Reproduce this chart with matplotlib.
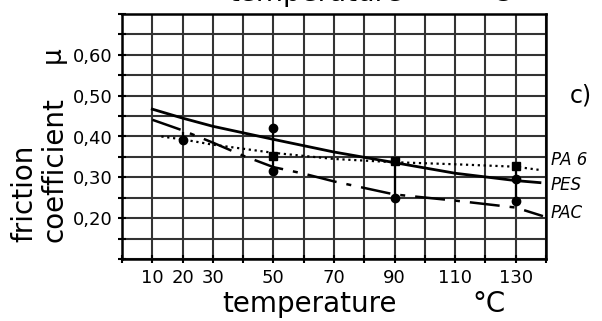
import matplotlib
matplotlib.use("Agg")
import matplotlib.pyplot as plt

# curves (temperature in degC, friction coefficient)
pes_t = [10, 20, 30, 50, 70, 90, 110, 130, 138]
pes_mu = [0.467, 0.445, 0.425, 0.393, 0.362, 0.336, 0.310, 0.292, 0.287]

pa6_t = [13, 20, 30, 50, 70, 90, 110, 130, 138]
pa6_mu = [0.400, 0.393, 0.380, 0.360, 0.345, 0.337, 0.332, 0.326, 0.318]

pac_t = [10, 20, 30, 40, 50, 60, 70, 90, 110, 130, 139]
pac_mu = [0.441, 0.415, 0.385, 0.353, 0.325, 0.309, 0.290, 0.258, 0.243, 0.226, 0.205]

# measured points
sq_t = [50, 90, 130]
sq_mu = [0.352, 0.340, 0.328]
dot_t = [20, 50, 50, 90, 130, 130]
dot_mu = [0.392, 0.420, 0.315, 0.250, 0.295, 0.242]
bar_t = [20, 50, 90, 130]
bar_lo = [0.380, 0.310, 0.245, 0.235]
bar_hi = [0.410, 0.425, 0.350, 0.335]

xticks = list(range(0, 141, 10))
xlabels = ["", "10", "20", "30", "", "50", "", "70", "", "90", "", "110", "", "130", ""]
yticks = [0.10 + 0.05 * i for i in range(13)]
ylabels = ["", "", "0,20", "", "0,30", "", "0,40", "", "0,50", "", "0,60", "", ""]

plt.rcParams["font.family"] = "DejaVu Sans"

fig = plt.figure(figsize=(6.02, 3.21), dpi=100)
ax = fig.add_axes([122 / 602, 62 / 321, 424 / 602, 245 / 321])

ax.plot(pes_t, pes_mu, color="black", linewidth=2.0)
ax.plot(pa6_t, pa6_mu, color="black", linewidth=1.6, linestyle=":")
ax.plot(pac_t, pac_mu, color="black", linewidth=1.8, dashes=(12, 4, 2, 4))

ax.vlines(bar_t, bar_lo, bar_hi, color="black", linewidth=1.6)
ax.plot(sq_t, sq_mu, "s", color="black", markersize=6)
ax.plot(dot_t, dot_mu, "o", color="black", markersize=6)

ax.set_xlim(0, 140)
ax.set_ylim(0.10, 0.70)
ax.set_xticks(xticks)
ax.set_xticklabels(xlabels)
ax.set_yticks(yticks)
ax.set_yticklabels(ylabels)
ax.grid(True, color="#333333", linewidth=1.5)
ax.set_axisbelow(True)
ax.tick_params(direction="inout", length=6, width=1.5, labelsize=13, pad=4)

for side in ["left", "bottom", "right", "top"]:
    ax.spines[side].set_linewidth(1.8)

fig.text(24 / 602, 79 / 321, "friction", rotation=90, ha="center", va="bottom", fontsize=20)
fig.text(54 / 602, 79 / 321, "coefficient", rotation=90, ha="center", va="bottom", fontsize=20)
fig.text(53 / 602, 266 / 321, "\u03bc", rotation=90, ha="center", va="center", fontsize=19)

fig.text(222 / 602, 9 / 321, "temperature", va="baseline", fontsize=20)
fig.text(472 / 602, 9 / 321, "\u00b0C", va="baseline", fontsize=20)
# title cut off by the top edge in the source scan
fig.text(228 / 602, 320 / 321, "temperature", va="baseline", fontsize=20)
fig.text(478 / 602, 320 / 321, "\u00b0C", va="baseline", fontsize=20)

fig.text(570 / 602, 226 / 321, "c)", va="center", fontsize=17)
fig.text(551 / 602, 161 / 321, "PA 6", va="center", fontsize=12, style="italic")
fig.text(551 / 602, 136 / 321, "PES", va="center", fontsize=12, style="italic")
fig.text(551 / 602, 108 / 321, "PAC", va="center", fontsize=12, style="italic")

fig.savefig("out.png", dpi=100)
